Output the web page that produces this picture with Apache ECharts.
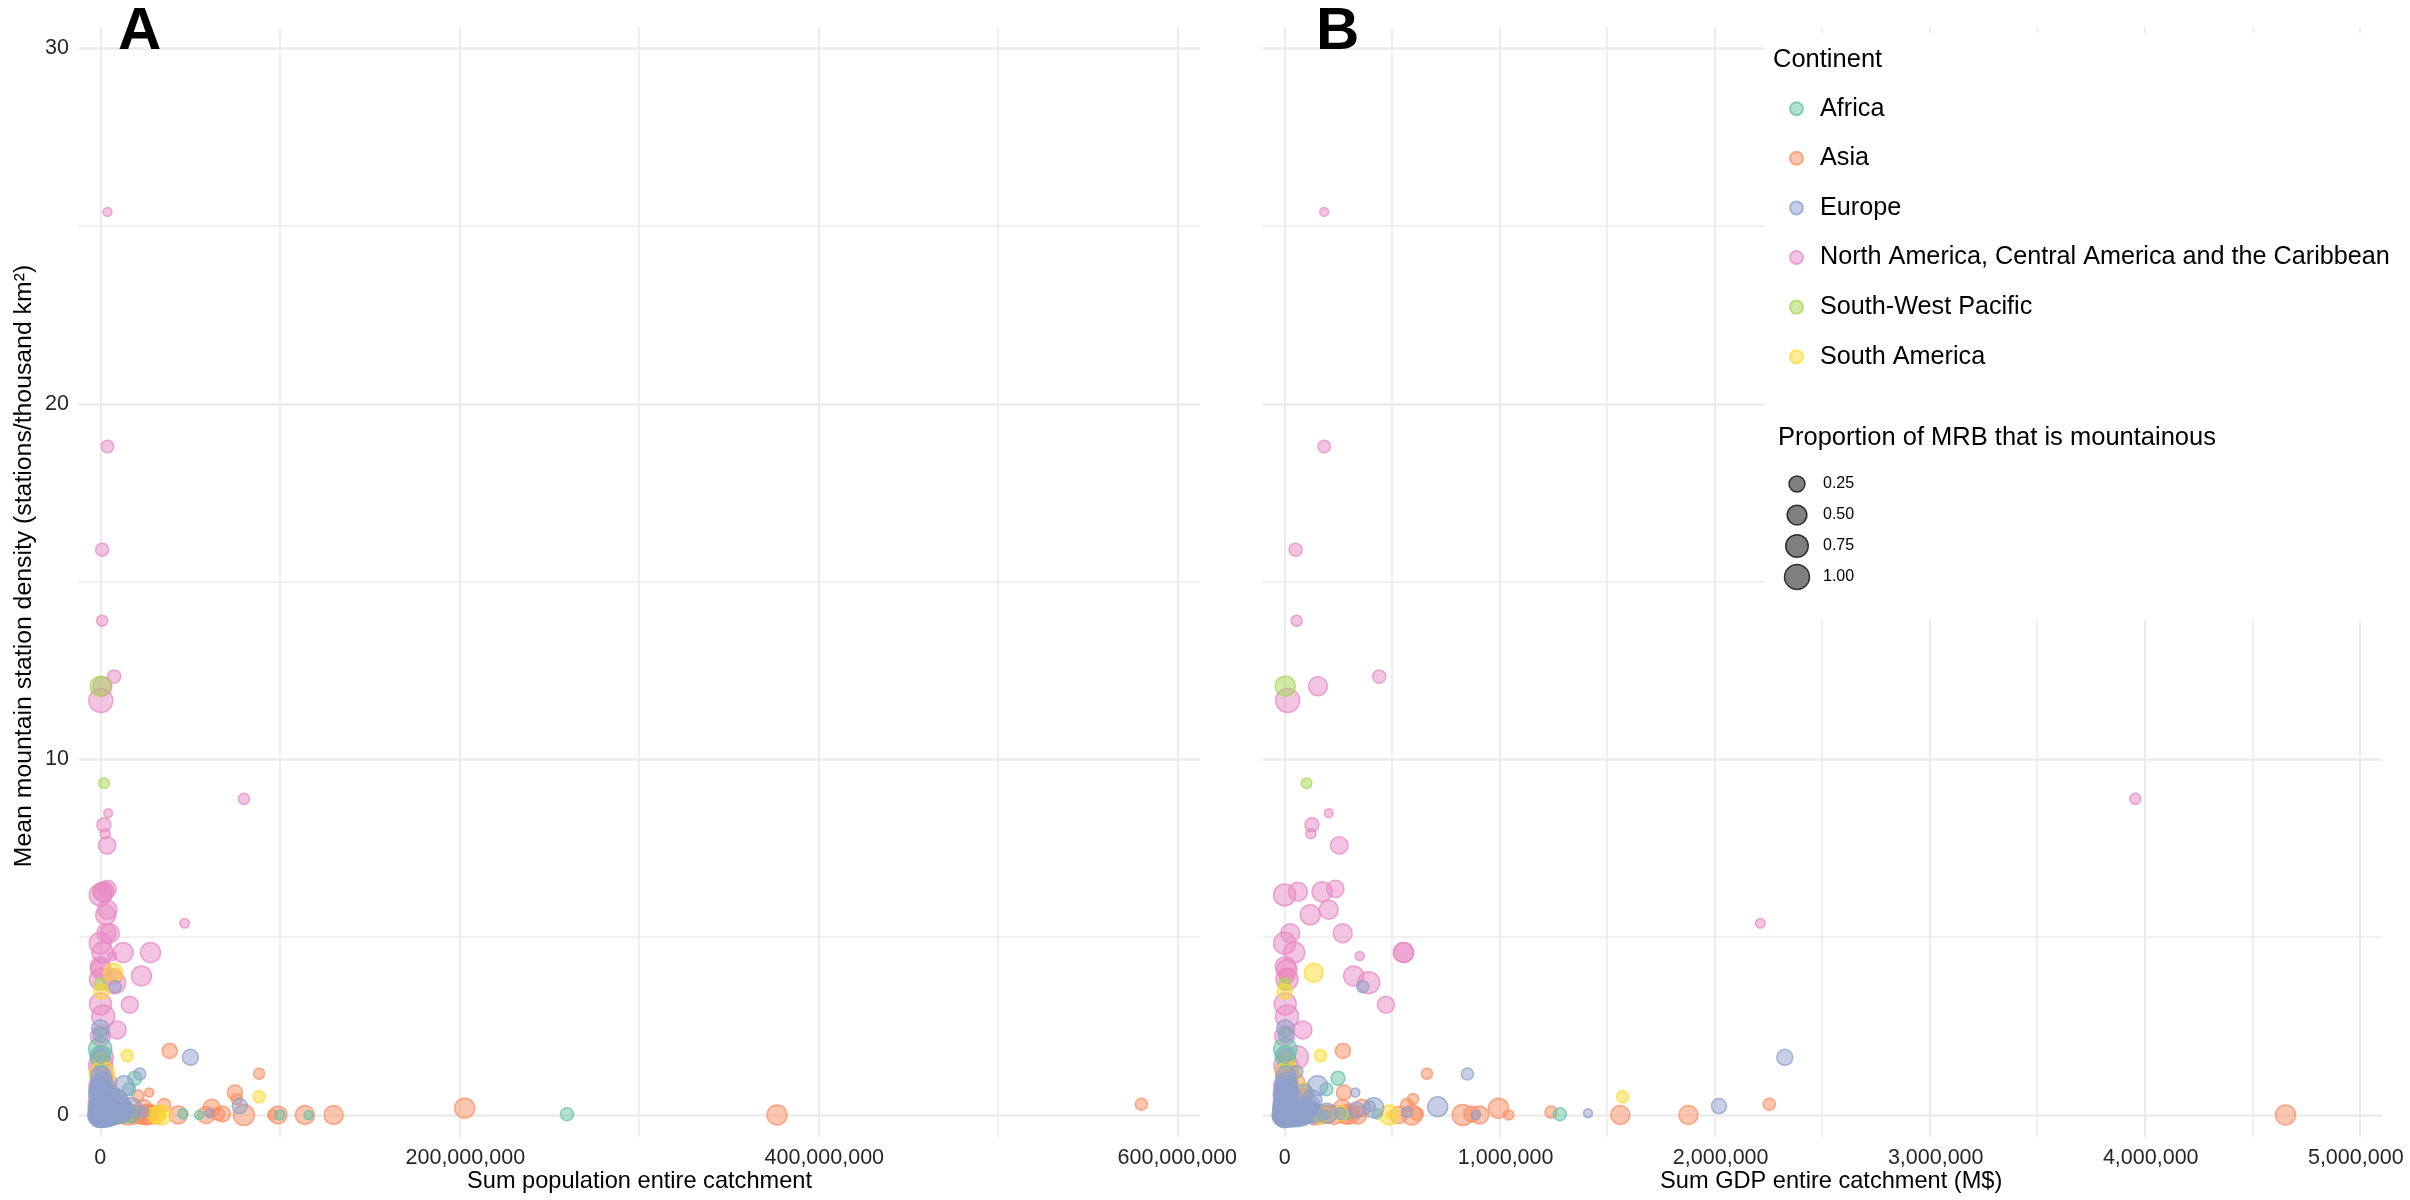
<!DOCTYPE html>
<html>
<head>
<meta charset="utf-8">
<title>Mountain station density</title>
<script src="https://cdn.jsdelivr.net/npm/echarts@6/dist/echarts.min.js"></script>
<style>
  html, body { margin: 0; padding: 0; background: #fff; }
  #chart { width: 2410px; height: 1200px; }
</style>
</head>
<body>
<div id="chart"></div>
<script>
// each row: population (millions), GDP (thousand M$), station density, proportion mountainous
const asia = [
  [580,2254,.3,.08],[377,4655,0,.52],[203,995,.19,.52],[130,1878,0,.44],[114,1561,0,.44],
  [99,907,0,.37],[96,1042,0,.03],[80,828,0,.6],[76,597,.45,.05],[75,276,.63,.2],
  [68,871,.03,.25],[65.6,615,.03,.11],[62,360,.2,.31],[59,530,0,.31],[43.4,282,0,.37],
  [38.7,271,1.8,.2],[88.5,662,1.16,.05],[35.6,569,.28,.11],[27.2,90,.63,.012],[21,96,.53,.08],
  [20,1239,.08,.08],[25.7,592,0,.52],[24,267,.18,.37],[22,200,.02,.37],[18,160,.05,.3],
  [30,313,.08,.11],[14,120,.1,.37],[10,80,.4,.37],[8,60,.02,.6],[5,30,.2,.6],
  [12,100,.05,.52],[4,50,.9,.44],[8,10,3.9,.2],[15,140,0,.5],[19,175,.01,.44],
  [23,230,0,.44],[27,300,.02,.52],[31,340,0,.37]
];
const northAmerica = [
  [4,184,25.4,.01],[4,184,18.8,.09],[1,51,15.9,.11],[1,56,13.9,.05],[7.7,440,12.33,.12],
  [1.2,155,12.06,.44],[.3,14,11.66,.89],[80,3956,8.89,.05],[4.4,205,8.49,.01],[2,127,8.16,.15],
  [2.7,122,7.91,.03],[3.8,254,7.58,.33],[4,236,6.36,.33],[2,174,6.28,.52],[1,62,6.28,.44],
  [0,0,6.19,.69],[3,119,5.63,.52],[4,205,5.77,.44],[3.4,26,5.11,.44],[5.3,270,5.11,.44],
  [47,2212,5.39,.02],[0,0,4.83,.69],[1.2,45,4.57,.6],[12.7,553,4.57,.52],[28,553,4.57,.52],
  [6.6,349,4.47,.012],[0,3,4.17,.52],[.3,11,4.1,.52],[22.9,321,3.91,.52],[.1,11,3.82,.69],
  [8,391,3.72,.69],[16.4,471,3.1,.31],[.1,3,3.12,.69],[1.6,11,2.77,.79],[9.4,85,2.39,.37],
  [0,0,2.22,.52],[.8,57,1.62,.79],[.2,6,1.4,.89],[.4,10,1.2,.79],[.3,5,.8,.89],
  [.1,2,.5,.79],[.2,4,.3,1],[.1,2,.15,.89],[0,1,.05,.79],[.5,12,1,.69]
];
const africa = [
  [19.2,248,1.03,.15],[16,194,.72,.11],[260,1280,.02,.11],[46,431,.03,.03],[55,290,0,.012],
  [100,259,0,.03],[116,180,0,.012],[0,3,1.85,.79],[0,3,1.65,.52],[.8,5,1.42,.03],
  [2,40,.02,.52],[8,70,0,.44],[12,120,.01,.31],[17,60,.03,.3]
];
const southWestPacific = [
  [0,3,12.06,.52],[2.1,102,9.33,.04],[0,0,3.68,.08],[.4,3,2.34,.03],[.3,8,1.55,.15],
  [.5,10,.6,.3],[1,15,.2,.2],[.2,2,.05,.25]
];
const southAmerica = [
  [7.2,135,4,.44],[.6,0,3.47,.2],[15,167,1.67,.08],[88.5,1572,.51,.08],[34,487,0,.52],
  [34.5,490,0,0],[1,15,1.15,1],[0,0,0,.89],[1,2,.02,.79],[.5,10,.4,.6],
  [4,90,.7,.2],[6,258,.05,.2],[31,175,0,.3],[3,85,.2,.52]
];
const europe = [
  [8.3,363,3.61,.08],[0,3,2.44,.31],[.2,5,2.25,.2],[.1,0,1.66,.15],[50.2,2326,1.62,.25],
  [22,850,1.15,.08],[.6,57,1.22,.08],[13.3,153,.82,.52],[9,329,.63,.012],[12,712,.23,.52],
  [77.7,2020,.25,.2],[6,890,0,.012],[60.8,1411,.05,.012],[15,398,.25,.03],[17.5,414,.2,.52],
  [23.9,569,.08,.05],[3,194,0,.01],[0,0,0,1],[.5,8,.02,1],[1,20,.03,.89],
  [2,30,.05,.79],[3,40,.01,.89],[4,60,.03,1],[5,80,.02,.79],[.5,10,.1,.89],
  [.8,14,.2,.89],[1,5,.35,.79],[1.5,25,.5,.69],[.5,10,.7,.79],[1,8,.9,.69],
  [.3,6,1.1,.52],[6,100,.1,.6],[7,110,.2,.44],[8,130,.05,.52],[9,120,.3,.37],
  [10,127,.42,.52],[5,90,.6,.44],[11,197,.05,.52],[13,259,.04,.08],[14,333,.14,.25],
  [.2,2,0,1],[.4,4,.01,.89],[.6,6,.03,1],[.9,9,.05,.89],[1.2,12,.02,1],
  [1.6,16,.06,.79],[2,22,.01,1],[2.4,26,.08,.89],[2.8,32,.03,.79],[3.2,38,.1,.89],
  [3.6,44,.02,1],[4.2,50,.06,.79],[.3,3,.15,1],[.7,7,.2,.89],[1.1,11,.25,.79],
  [1.5,18,.12,.89],[.4,5,.3,.89],[.8,9,.4,.79],[1.3,15,.32,.69],[.6,6,.5,.79],
  [1,12,.6,.69],[2.2,28,.22,.69],[3,42,.18,.69],[5.5,70,.12,.69],[.2,3,.62,.89],
  [.5,7,.8,.69],[7.5,75,.08,.5]
];

const legendOrder = ['Africa', 'Asia', 'Europe', 'North America, Central America and the Caribbean', 'South-West Pacific', 'South America'];
const sizeLabels = ['0.25', '0.50', '0.75', '1.00'];

const popTicks = [0, 200000000, 400000000, 600000000];
const popMinor = [100000000, 300000000, 500000000];
const gdpTicks = [0, 1000000, 2000000, 3000000, 4000000, 5000000];
const gdpMinor = [500000, 1500000, 2500000, 3500000, 4500000];
const densityTicks = [0, 10, 20, 30];
const densityMinor = [5, 15, 25];

const font = '"Liberation Sans", Arial, sans-serif';
const gridColor = '#ebebeb';

// draw order follows the picture, legend order is set on its own
const groups = [
  { name: legendOrder[1], rows: asia, rgb: '252,141,98' },
  { name: legendOrder[3], rows: northAmerica, rgb: '231,138,195' },
  { name: legendOrder[0], rows: africa, rgb: '102,194,165' },
  { name: legendOrder[4], rows: southWestPacific, rgb: '166,216,84' },
  { name: legendOrder[5], rows: southAmerica, rgb: '255,217,47' },
  { name: legendOrder[2], rows: europe, rgb: '141,160,203' }
];

function sizeOf(share) {
  return 7 + 18 * Math.sqrt(share);
}

function tickLabel(ticks) {
  const last = ticks[ticks.length - 1];
  return function (v) {
    const s = Number(v).toLocaleString('en-US');
    if (v === 0 || (v === last && ticks.length === 4)) return s;
    return v === last ? '{l|' + s + '}' : '{r|' + s + '}';
  };
}

const labelRich = {
  r: { fontFamily: font, fontSize: 21.5, color: '#262626', padding: [0, 0, 0, 12] },
  l: { fontFamily: font, fontSize: 21.5, color: '#262626', padding: [0, 8, 0, 0] }
};

function xMajor(gridIndex, min, max, ticks, name, shift) {
  return {
    type: 'value', gridIndex, min, max, position: 'bottom',
    name, nameLocation: 'middle', nameGap: 32, nameMoveOverlap: false,
    nameTextStyle: { fontFamily: font, fontSize: 23.6, color: '#000', padding: [0, 0, 0, shift] },
    axisLine: { show: false },
    axisTick: { show: false, customValues: ticks },
    axisLabel: { customValues: ticks, margin: 10, fontFamily: font, fontSize: 21.5, color: '#262626', formatter: tickLabel(ticks), rich: labelRich, hideOverlap: false },
    splitLine: { show: true, lineStyle: { color: gridColor, width: 2 } }
  };
}

function xMinor(gridIndex, min, max, ticks) {
  return {
    type: 'value', gridIndex, min, max, position: 'top',
    axisLine: { show: false },
    axisTick: { show: false, customValues: ticks },
    axisLabel: { show: false },
    splitLine: { show: true, lineStyle: { color: gridColor, width: 1.5 } }
  };
}

function yMajor(gridIndex, showText) {
  return {
    type: 'value', gridIndex, min: -0.62, max: 30.6, position: 'left',
    name: showText ? 'Mean mountain station density (stations/thousand km²)' : '',
    nameLocation: 'middle', nameGap: 42,
    nameTextStyle: { fontFamily: font, fontSize: 24.8, color: '#000', padding: [0, 0, 0, 32] },
    axisLine: { show: false },
    axisTick: { show: false, customValues: densityTicks },
    axisLabel: { show: showText, customValues: densityTicks, margin: 10, fontFamily: font, fontSize: 21.5, color: '#262626' },
    splitLine: { show: true, lineStyle: { color: gridColor, width: 2.5 } }
  };
}

function yMinor(gridIndex) {
  return {
    type: 'value', gridIndex, min: -0.62, max: 30.6, position: 'right',
    axisLine: { show: false },
    axisTick: { show: false, customValues: densityMinor },
    axisLabel: { show: false },
    splitLine: { show: true, lineStyle: { color: gridColor, width: 1.5 } }
  };
}

function panelSeries(axisIndex, pick) {
  return groups.map(g => ({
    name: g.name,
    type: 'scatter',
    xAxisIndex: axisIndex,
    yAxisIndex: axisIndex,
    clip: false,
    z: 3,
    data: g.rows.map(pick),
    symbolSize: v => sizeOf(v[2]),
    itemStyle: { color: 'rgba(' + g.rgb + ',0.5)', borderColor: 'rgba(' + g.rgb + ',0.75)', borderWidth: 1.5, opacity: 1 },
    emphasis: { disabled: true }
  }));
}

const chart = echarts.init(document.getElementById('chart'));

chart.setOption({
  animation: false,
  backgroundColor: '#fff',
  title: [
    { text: 'A', left: 118, top: 2, padding: 0, textStyle: { fontFamily: font, fontSize: 60, fontWeight: 'bold', color: '#000' } },
    { text: 'B', left: 1316, top: 2, padding: 0, textStyle: { fontFamily: font, fontSize: 60, fontWeight: 'bold', color: '#000' } },
    { text: 'Continent', left: 1773, top: 47, padding: 0, textStyle: { fontFamily: font, fontSize: 25.5, fontWeight: 'normal', color: '#000' } },
    { text: 'Proportion of MRB that is mountainous', left: 1778, top: 425, padding: 0, textStyle: { fontFamily: font, fontSize: 25.5, fontWeight: 'normal', color: '#000' } }
  ],
  legend: {
    data: legendOrder,
    orient: 'vertical',
    left: 1789,
    top: 93.7,
    padding: 0,
    icon: 'circle',
    itemWidth: 13,
    itemHeight: 13,
    itemGap: 19.6,
    selectedMode: false,
    textStyle: { fontFamily: font, fontSize: 25.2, color: '#000', lineHeight: 30, padding: [0, 0, 0, 12] }
  },
  grid: [
    { left: 79, right: 2410 - 1200, top: 27, bottom: 63, outerBoundsMode: 'none' },
    { left: 1262.7, right: 2410 - 2381.7, top: 27, bottom: 63, outerBoundsMode: 'none' },
    { left: 1780, width: 34, top: 468.5, height: 124, outerBoundsMode: 'none' }
  ],
  xAxis: [
    xMajor(0, -11870000, 612650000, popTicks, 'Sum population entire catchment', 0),
    xMinor(0, -11870000, 612650000, popMinor),
    xMajor(1, -102000, 5102000, gdpTicks, 'Sum GDP entire catchment (M$)', 18),
    xMinor(1, -102000, 5102000, gdpMinor),
    { type: 'value', gridIndex: 2, min: 0, max: 1, show: false }
  ],
  yAxis: [
    yMajor(0, true),
    yMinor(0),
    yMajor(1, false),
    yMinor(1),
    {
      type: 'category', gridIndex: 2, data: sizeLabels, inverse: true, position: 'right', z: 5,
      axisLine: { show: false }, axisTick: { show: false }, splitLine: { show: false },
      axisLabel: { margin: 9, fontFamily: font, fontSize: 16, color: '#000' }
    }
  ],
  // white block behind the legend, the gridlines stop there
  graphic: [{
    type: 'rect', z: 1, silent: true,
    shape: { x: 1765, y: 33, width: 645, height: 587 },
    style: { fill: '#fff' }
  }],
  series: [
    ...panelSeries(0, r => [r[0] * 1000000, r[2], r[3]]),
    ...panelSeries(2, r => [r[1] * 1000, r[2], r[3]]),
    {
      type: 'scatter',
      xAxisIndex: 4,
      yAxisIndex: 4,
      z: 5,
      data: sizeLabels.map(s => [0.5, s]),
      symbolSize: v => sizeOf(Number(v[1])),
      itemStyle: { color: 'rgba(0,0,0,0.5)', borderColor: 'rgba(0,0,0,0.75)', borderWidth: 1.5, opacity: 1 },
      emphasis: { disabled: true }
    }
  ]
});
</script>
</body>
</html>
